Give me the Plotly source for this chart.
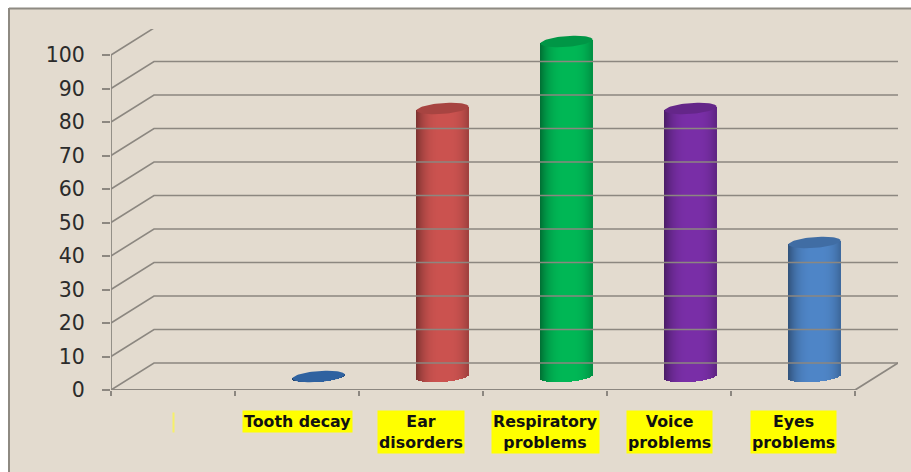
import numpy as np
import plotly.graph_objects as go

categories = ["", "Tooth decay", "Ear<br>disorders", "Respiratory<br>problems", "Voice<br>problems", "Eyes<br>problems"]
values = [None, 0, 80, 100, 80, 40]
bar_colors = [None, "#2f62a0", "#cc5350", "#00b856", "#7a2fa8", "#4f86c8"]
y_ticks = list(range(0, 101, 10))

W, H = 911, 472
PX_L, PX_R, PX_T, PX_B = 111, 898, 29, 390
PX_PER_X, PX_PER_Y = 124.0, 3.35
x_max = (PX_R - PX_L) / PX_PER_X
y_max = (PX_B - PX_T) / PX_PER_Y
depth_x, depth_y = 43 / PX_PER_X, 27 / PX_PER_Y
half_w = 26 / PX_PER_X
minor = 5.5 / PX_PER_Y
tilt = 2.0 / PX_PER_Y
N = 52
GRID = "#8c8780"
BG = "#e3dbcf"


def mix(hex_color, f):
    rgb = np.array([int(hex_color[i:i + 2], 16) for i in (1, 3, 5)], dtype=float)
    return "rgb(%d,%d,%d)" % tuple(np.clip(rgb * f, 0, 255))


def shade(t):
    return 0.70 + 0.30 * (1 - abs(t - 0.1) ** 3)


fig = go.Figure()

# walls and grid
for v in y_ticks:
    fig.add_trace(go.Scatter(
        x=[0, depth_x, 6 + depth_x], y=[v, v + depth_y, v + depth_y], cliponaxis=False,
        mode="lines", line=dict(color=GRID, width=1.6), hoverinfo="skip"))
fig.add_trace(go.Scatter(x=[0, 0], y=[0, 100], mode="lines", cliponaxis=False,
                         line=dict(color=GRID, width=1.8), hoverinfo="skip"))
fig.add_trace(go.Scatter(x=[0, 6, 6 + depth_x], y=[0, 0, depth_y], mode="lines", cliponaxis=False,
                         line=dict(color=GRID, width=1.8), hoverinfo="skip"))

# cylinders: vertical strips of a shaded bar, with curved bottoms
idx = [i for i, v in enumerate(values) if v is not None]
centres = [i + 0.5 + depth_x / 2 for i in idx]
vals = [values[i] for i in idx]
cols = [bar_colors[i] for i in idx]
base_mid = depth_y / 2
strip = 2 * half_w / N
for k in range(N):
    t = -1 + (k + 0.5) * 2 / N
    low = base_mid - minor * np.sqrt(1 - t * t) + tilt * t
    fig.add_trace(go.Bar(
        x=centres, y=[v + base_mid + tilt * t - low for v in vals],
        base=[low] * len(vals), width=strip * 1.25,
        offset=t * half_w - strip * 0.6,
        marker=dict(color=[mix(c, shade(t)) for c in cols], line=dict(width=0)),
        hoverinfo="skip"))

# top caps
ang = np.linspace(0, 2 * np.pi, 73)
for c, v, col in zip(centres, vals, cols):
    fig.add_trace(go.Scatter(
        x=c + half_w * np.cos(ang),
        y=v + base_mid + minor * np.sin(ang) + tilt * np.cos(ang),
        mode="lines", fill="toself", fillcolor=mix(col, 0.82 if v else 1.0),
        line=dict(width=0), hoverinfo="skip"))

px_w = PX_R - PX_L
px_h = PX_B - PX_T
to_px = lambda x: (x - PX_L) / px_w
to_py = lambda y: (PX_B - y) / px_h

# category labels
for i, name in enumerate(categories):
    if name:
        fig.add_annotation(x=i + 0.5, y=to_py(410), xref="x", yref="paper",
                           text="<b>%s</b>" % name, showarrow=False, yanchor="top", xanchor="center",
                           bgcolor="#ffff00", borderpad=1, align="center",
                           font=dict(family="DejaVu Sans", size=15.8, color="#111111"))

# sliver of the empty first label
fig.add_annotation(x=0.5, y=to_py(412), xref="x", yref="paper", text=" ", showarrow=False,
                   yanchor="top", xanchor="center", width=1, height=19, bgcolor="#f6f06a",
                   font=dict(size=13), borderpad=0)

fig.add_shape(type="rect", xref="paper", yref="paper", layer="below",
              x0=to_px(9), x1=to_px(W + 2), y0=to_py(H + 2), y1=to_py(8.5),
              fillcolor=BG, line=dict(width=0))
fig.add_shape(type="line", xref="paper", yref="paper", layer="below",
              x0=to_px(9), x1=to_px(W + 2), y0=to_py(8.5), y1=to_py(8.5), line=dict(color="#8e8a82", width=2))
fig.add_shape(type="line", xref="paper", yref="paper", layer="below",
              x0=to_px(9), x1=to_px(9), y0=to_py(H + 2), y1=to_py(8), line=dict(color="#8e8a82", width=2))

fig.update_layout(
    width=W, height=H, showlegend=False, barmode="overlay", bargap=0,
    margin=dict(l=PX_L, r=W - PX_R, t=PX_T, b=H - PX_B, pad=0, autoexpand=False),
    paper_bgcolor="#ffffff", plot_bgcolor="rgba(0,0,0,0)",
    xaxis=dict(range=[0, x_max], tickvals=list(range(7)), showticklabels=False, showgrid=False,
               zeroline=False, showline=False, ticks="outside", ticklen=5, tickwidth=1.6, tickcolor=GRID),
    yaxis=dict(range=[0, y_max], tickvals=y_ticks, showgrid=False, zeroline=False, showline=False,
               ticks="outside", ticklen=8, tickwidth=1.6, tickcolor=GRID, ticklabelstandoff=13,
               tickfont=dict(family="DejaVu Sans", size=20.5, color="#2b2b2b")),
)

fig.write_html("out.html", config={"displayModeBar": False}, post_script="document.body.style.margin='0';")
